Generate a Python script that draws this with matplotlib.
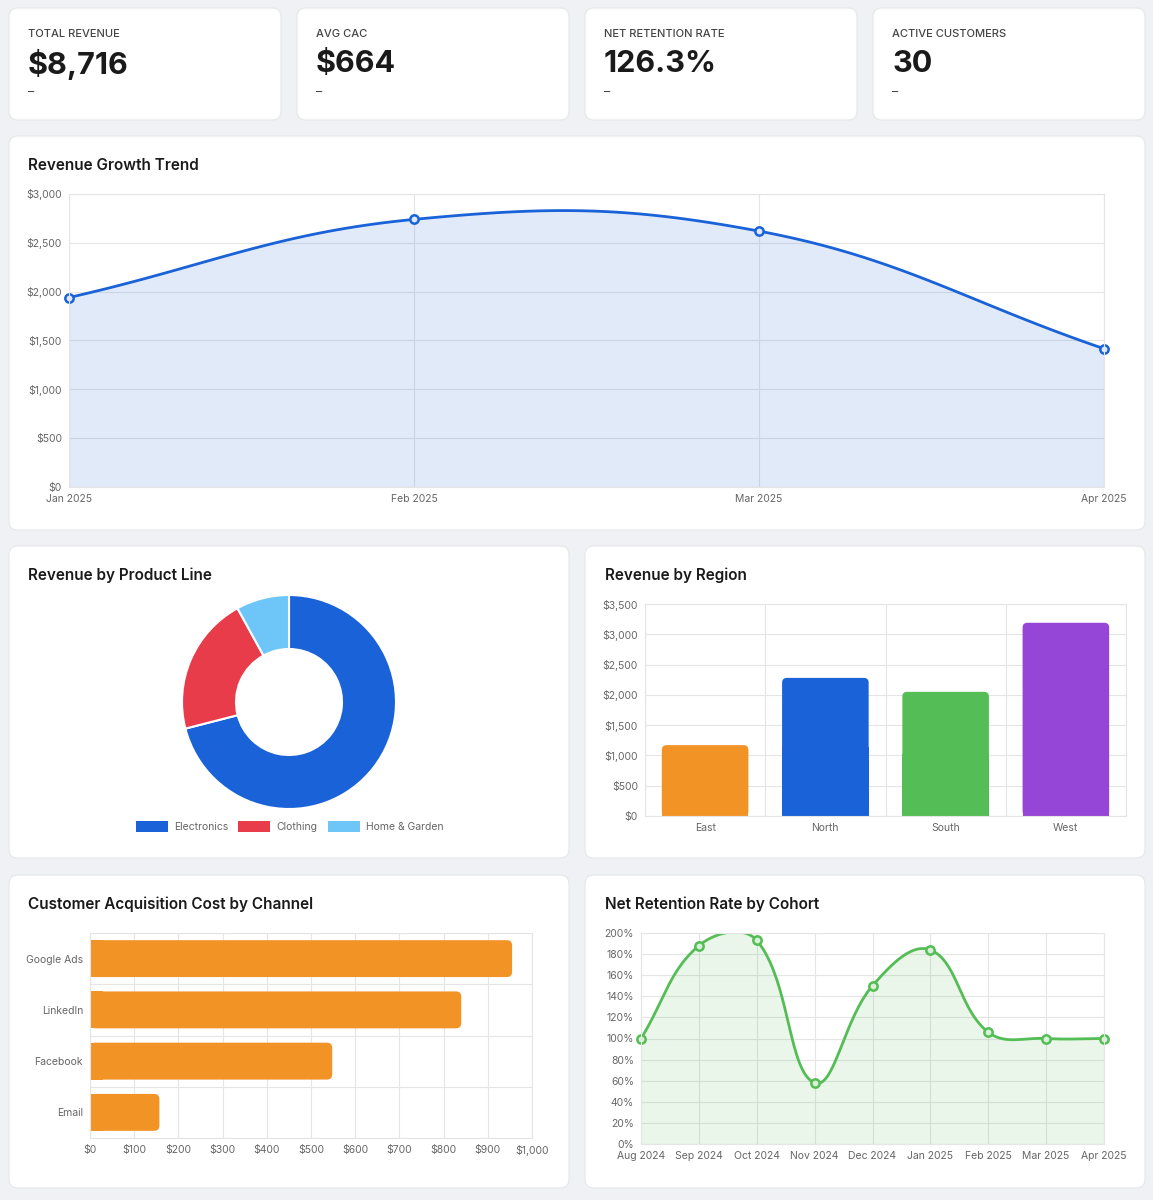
import numpy as np
import matplotlib
matplotlib.use('Agg')
import matplotlib.pyplot as plt
from matplotlib.patches import FancyBboxPatch, Wedge, Rectangle

plt.rcParams['font.family'] = ['Inter', 'DejaVu Sans']

# ── Data ───────────────────────────────────────────────────────────────────
kpi_labels = ['TOTAL REVENUE', 'AVG CAC', 'NET RETENTION RATE', 'ACTIVE CUSTOMERS']
kpi_values = ['$8,716', '$664', '126.3%', '30']

months = ['Jan 2025', 'Feb 2025', 'Mar 2025', 'Apr 2025']
revenue = [1940, 2740, 2620, 1416]

products = ['Electronics', 'Clothing', 'Home & Garden']
product_share = [71, 21, 8]
product_colors = ['#1a62d8', '#e83c4b', '#6ec6f8']

regions = ['East', 'North', 'South', 'West']
region_rev = [1170, 2280, 2050, 3190]
region_colors = ['#f29326', '#1a62d8', '#55bd55', '#9546d6']

channels = ['Google Ads', 'LinkedIn', 'Facebook', 'Email']
cac = [955, 840, 548, 157]

cohorts = ['Aug 2024', 'Sep 2024', 'Oct 2024', 'Nov 2024', 'Dec 2024',
           'Jan 2025', 'Feb 2025', 'Mar 2025', 'Apr 2025']
retention = [100, 188, 193, 58, 150, 184, 106, 100, 100]

W, H = 1153, 1200
fig = plt.figure(figsize=(W / 100, H / 100), dpi=100)
fig.patch.set_facecolor('#f0f1f4')
TXT = '#1a1a1a'
TICK = '#666666'
GRID = '#e5e5e5'

def fax(x0, y0, x1, y1, **kw):
    return fig.add_axes([x0 / W, 1 - y1 / H, (x1 - x0) / W, (y1 - y0) / H], **kw)

def card(x0, y0, x1, y1):
    bg = fax(0, 0, W, H)
    bg.set_zorder(-10)
    bg.axis('off')
    bg.set_xlim(0, W); bg.set_ylim(H, 0)
    bg.add_patch(FancyBboxPatch((x0, y0), x1 - x0, y1 - y0,
                                boxstyle='round,pad=0,rounding_size=9',
                                fc='white', ec='#e6e7ea', lw=0.8))
    return bg

# one background layer for all cards
bg = fax(0, 0, W, H)
bg.set_zorder(-10); bg.axis('off')
bg.set_xlim(0, W); bg.set_ylim(H, 0)
def rbox(x0, y0, x1, y1):
    bg.add_patch(FancyBboxPatch((x0, y0), x1 - x0, y1 - y0,
                                boxstyle='round,pad=0,rounding_size=9',
                                fc='white', ec='#e6e7ea', lw=0.8))

kx = [9, 297, 585, 873]
for i in range(4):
    rbox(kx[i], 8, kx[i] + 272, 120)
    bg.text(kx[i] + 19, 34, kpi_labels[i], fontsize=8, color='#444', va='center',
            fontweight='medium')
    bg.text(kx[i] + 19, 64, kpi_values[i], fontsize=22, color=TXT, va='center',
            fontweight='bold')
    bg.text(kx[i] + 19, 92, '–', fontsize=9, color='#444', va='center')

rbox(9, 136, 1145, 530)
rbox(9, 546, 569, 858); rbox(585, 546, 1145, 858)
rbox(9, 875, 569, 1188); rbox(585, 875, 1145, 1188)
for x, y, t in [(28, 165, 'Revenue Growth Trend'), (28, 575, 'Revenue by Product Line'),
                (605, 575, 'Revenue by Region'), (28, 904, 'Customer Acquisition Cost by Channel'),
                (605, 904, 'Net Retention Rate by Cohort')]:
    bg.text(x, y, t, fontsize=11, color=TXT, va='center', fontweight='semibold')

def style(ax, xgrid=True):
    for s in ax.spines.values():
        s.set_color(GRID)
    ax.tick_params(colors=TICK, labelsize=7.5, length=0, pad=5)
    ax.grid(True, color=GRID, lw=0.8)
    ax.set_axisbelow(True)
    ax.set_facecolor('none')

def spline(xs, ys, sx, sy, t=0.4, n=40):
    # Chart.js style bezier through points (sx, sy = pixels per unit)
    P = np.column_stack([np.array(xs, float) * sx, np.array(ys, float) * sy])
    m = len(P)
    cp_in = P.copy(); cp_out = P.copy()
    for i in range(m):
        p0 = P[max(i - 1, 0)]; p1 = P[i]; p2 = P[min(i + 1, m - 1)]
        d01 = np.linalg.norm(p1 - p0); d12 = np.linalg.norm(p2 - p1)
        tot = d01 + d12
        s01 = d01 / tot if tot else 0; s12 = d12 / tot if tot else 0
        cp_in[i] = p1 - t * s01 * (p2 - p0)
        cp_out[i] = p1 + t * s12 * (p2 - p0)
    pts = []
    u = np.linspace(0, 1, n)[:, None]
    for i in range(m - 1):
        a, b, c, d = P[i], cp_out[i], cp_in[i + 1], P[i + 1]
        pts.append((1 - u) ** 3 * a + 3 * (1 - u) ** 2 * u * b + 3 * (1 - u) * u ** 2 * c + u ** 3 * d)
    pts = np.vstack(pts)
    return pts[:, 0] / sx, pts[:, 1] / sy

# ── Revenue growth ─────────────────────────────────────────────────────────
ax = fax(69, 194, 1104, 487)
style(ax)
x = np.arange(len(months))
ax.set_xlim(0, 3); ax.set_ylim(0, 3000)
sx, sy = 1035 / 3, 293 / 3000
cx, cy = spline(x, revenue, sx, sy)
ax.fill_between(cx, cy, color='#1a62d8', alpha=0.13, lw=0)
ax.plot(cx, cy, color='#1a62d8', lw=2)
ax.plot(x, revenue, 'o', ms=6, mfc='#dfe9fa', mec='#1a62d8', mew=1.8, clip_on=False)
ax.set_xticks(x, months)
ax.set_yticks(range(0, 3001, 500), [f'${v:,}' for v in range(0, 3001, 500)])

# ── Product donut ──────────────────────────────────────────────────────────
ax = fax(9, 546, 569, 858)
ax.axis('off'); ax.set_xlim(9, 569); ax.set_ylim(858, 546); ax.set_aspect('equal')
start = 90
for v, c in zip(product_share, product_colors):
    ang = v / sum(product_share) * 360
    w = Wedge((289, 702), 107, start - ang, start, width=54, fc=c, ec='white', lw=1.5)
    ax.add_patch(w)
    start -= ang
# mirror y since ylim inverted: wedge angles measured in data coords -> flip
for p in ax.patches:
    p.set_transform(matplotlib.transforms.Affine2D().scale(1, -1).translate(0, 2 * 702) + ax.transData)
lx = [136, 238, 328]
for l, c, xx in zip(products, product_colors, lx):
    ax.add_patch(Rectangle((xx, 821), 32, 11, fc=c, ec='none'))
    ax.text(xx + 38, 827, l, fontsize=7.5, color=TICK, va='center')

# ── Region bars ────────────────────────────────────────────────────────────
ax = fax(645, 604, 1126, 816)
style(ax)
ax.set_xlim(-0.5, 3.5); ax.set_ylim(0, 3500)
bw = 0.72
ratio = (3500 / 212) / (4 / 481)
for i, (v, c) in enumerate(zip(region_rev, region_colors)):
    ax.add_patch(FancyBboxPatch((i - bw / 2, 0), bw, v, boxstyle='round,pad=0,rounding_size=0.04',
                                mutation_aspect=ratio, fc=c, ec='none'))
    ax.add_patch(Rectangle((i - bw / 2, 0), bw, v * 0.5, fc=c, ec='none'))
ax.set_xticks(range(4), regions)
ax.set_xticks(np.arange(-0.5, 4, 1), minor=True)
ax.grid(False, axis='x'); ax.grid(True, which='minor', axis='x', color=GRID, lw=0.8)
ax.tick_params(which='minor', length=0)
ax.set_yticks(range(0, 3501, 500), [f'${v:,}' for v in range(0, 3501, 500)])

# ── CAC horizontal bars ────────────────────────────────────────────────────
ax = fax(90, 933, 532, 1138)
style(ax)
ax.set_xlim(0, 1000); ax.set_ylim(3.5, -0.5)
bh = 0.72
ratio_h = (4 / 205) / (1000 / 442)
for i, v in enumerate(cac):
    ax.add_patch(FancyBboxPatch((0, i - bh / 2), v, bh, boxstyle='round,pad=0,rounding_size=12',
                                mutation_aspect=ratio_h, fc='#f29326', ec='none'))
    ax.add_patch(Rectangle((0, i - bh / 2), min(v * 0.5, 30), bh, fc='#f29326', ec='none'))
ax.set_yticks(range(4), channels)
ax.set_yticks(np.arange(-0.5, 4, 1), minor=True)
ax.grid(False, axis='y'); ax.grid(True, which='minor', axis='y', color=GRID, lw=0.8)
ax.tick_params(which='minor', length=0)
ax.set_xticks(range(0, 1001, 100), [f'${v:,}' for v in range(0, 1001, 100)])

# ── Retention ──────────────────────────────────────────────────────────────
ax = fax(641, 933, 1104, 1144)
style(ax)
x = np.arange(len(cohorts))
ax.set_xlim(0, 8); ax.set_ylim(0, 200)
sx, sy = 463 / 8, 211 / 200
cx, cy = spline(x, retention, sx, sy)
ax.fill_between(cx, cy, color='#55bd55', alpha=0.13, lw=0)
ax.plot(cx, cy, color='#55bd55', lw=2)
ax.plot(x, retention, 'o', ms=6, mfc='#d9f0d9', mec='#55bd55', mew=1.8, clip_on=False)
ax.set_xticks(x, cohorts)
ax.set_yticks(range(0, 201, 20), [f'{v}%' for v in range(0, 201, 20)])

fig.savefig('out.png', dpi=100, facecolor=fig.get_facecolor())
